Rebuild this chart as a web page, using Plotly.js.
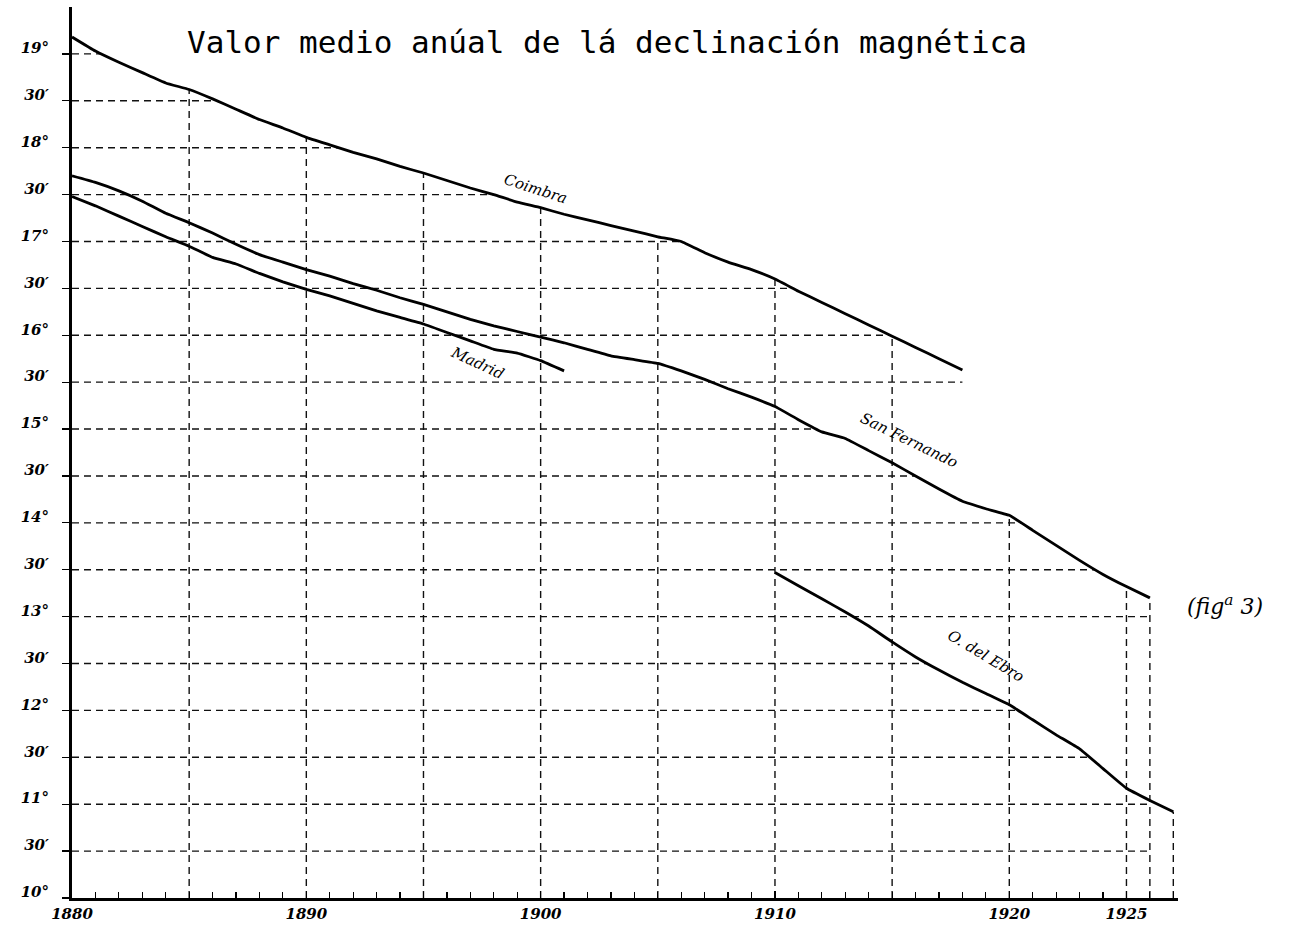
<!DOCTYPE html>
<html>
<head>
<meta charset="utf-8">
<script src="https://cdn.plot.ly/plotly-3.0.1.min.js"></script>
<style>html,body{margin:0;padding:0;background:#fff;}#chart{width:1291px;height:927px;}</style>
</head>
<body>
<div id="chart"></div>
<script>
// ---- Data ----
const coimbraYears = [1880,1881,1882,1883,1884,1885,1886,1887,1888,1889,1890,1891,1892,1893,1894,1895,1896,1897,1898,1899,1900,1901,1902,1903,1904,1905,1906,1907,1908,1909,1910,1911,1912,1913,1914,1915,1916,1917,1918];
const coimbra = [19.18,19.03,18.91,18.80,18.69,18.62,18.52,18.41,18.30,18.21,18.11,18.03,17.95,17.88,17.80,17.73,17.65,17.57,17.50,17.42,17.36,17.29,17.23,17.17,17.11,17.05,17.00,16.88,16.78,16.70,16.60,16.47,16.35,16.23,16.11,15.99,15.87,15.75,15.63];

const madridYears = [1880,1881,1882,1883,1884,1885,1886,1887,1888,1889,1890,1891,1892,1893,1894,1895,1896,1897,1898,1899,1900,1901];
const madrid = [17.48,17.38,17.27,17.16,17.05,16.95,16.83,16.76,16.66,16.57,16.49,16.42,16.34,16.26,16.19,16.12,16.03,15.94,15.85,15.81,15.73,15.62];

const sanFernandoYears = [1880,1881,1882,1883,1884,1885,1886,1887,1888,1889,1890,1891,1892,1893,1894,1895,1896,1897,1898,1899,1900,1901,1902,1903,1904,1905,1906,1907,1908,1909,1910,1911,1912,1913,1914,1915,1916,1917,1918,1919,1920,1921,1922,1923,1924,1925,1926];
const sanFernando = [17.70,17.63,17.54,17.43,17.30,17.20,17.09,16.97,16.86,16.78,16.70,16.63,16.55,16.48,16.40,16.33,16.25,16.17,16.10,16.04,15.98,15.92,15.85,15.78,15.74,15.70,15.62,15.53,15.43,15.34,15.24,15.10,14.97,14.90,14.77,14.64,14.50,14.36,14.23,14.15,14.08,13.92,13.76,13.60,13.45,13.32,13.20];

const ebroYears = [1910,1911,1912,1913,1914,1915,1916,1917,1918,1919,1920,1921,1922,1923,1924,1925,1926,1927];
const ebro = [13.47,13.33,13.19,13.05,12.90,12.73,12.57,12.43,12.30,12.18,12.06,11.90,11.74,11.59,11.38,11.17,11.04,10.92];

const xTickVals = [1880,1890,1900,1910,1920,1925];
const xTickText = ["1880","1890","1900","1910","1920","1925"];
const yTickVals = [10,10.5,11,11.5,12,12.5,13,13.5,14,14.5,15,15.5,16,16.5,17,17.5,18,18.5,19];
const yTickText = ["10°","30′","11°","30′","12°","30′","13°","30′","14°","30′","15°","30′","16°","30′","17°","30′","18°","30′","19°"];

const verticalGridYears = [1885,1890,1895,1900,1905,1910,1915,1920,1925,1926,1927];
const horizontalGridLevels = [10.5,11,11.5,12,12.5,13,13.5,14,14.5,15,15.5,16,16.5,17,17.5,18,18.5,19];

const seriesList = [
  {name:"Coimbra", x:coimbraYears, y:coimbra},
  {name:"Madrid", x:madridYears, y:madrid},
  {name:"San Fernando", x:sanFernandoYears, y:sanFernando},
  {name:"O. del Ebro", x:ebroYears, y:ebro}
];

// ---- helpers: gridlines stop where they meet the curves ----
function interp(xs, ys, X){
  if (X < xs[0]-1e-9 || X > xs[xs.length-1]+1e-9) return null;
  for (let i=0;i<xs.length-1;i++){
    if (X>=xs[i] && X<=xs[i+1]){
      const t=(X-xs[i])/(xs[i+1]-xs[i]);
      return ys[i]+t*(ys[i+1]-ys[i]);
    }
  }
  return ys[ys.length-1];
}
// x where a curve crosses level L (or its end, if it ends just above L)
function crossing(xs, ys, L){
  if (ys[0] < L) return null;
  for (let i=0;i<ys.length-1;i++){
    if (ys[i+1] < L){
      return xs[i] + (ys[i]-L)/(ys[i]-ys[i+1])*(xs[i+1]-xs[i]);
    }
  }
  const last = ys[ys.length-1];
  return (last - L) <= 0.3 ? xs[xs.length-1] : null;
}

const gridRight = 1926;
const gridStyle = {color:"#111", width:1.4, dash:"7px,5px"};
const shapes = [];
verticalGridYears.forEach(X=>{
  let top=null;
  seriesList.forEach(s=>{const v=interp(s.x,s.y,X); if(v!==null && (top===null||v>top)) top=v;});
  if(top!==null) shapes.push({type:"line", xref:"x", yref:"y", x0:X, x1:X, y0:10, y1:top, line:gridStyle, layer:"below"});
});
horizontalGridLevels.forEach(L=>{
  let right=null;
  seriesList.forEach(s=>{const v=crossing(s.x,s.y,L); if(v!==null && (right===null||v>right)) right=v;});
  if(right===null) right=gridRight;
  right=Math.min(right,gridRight);
  shapes.push({type:"line", xref:"x", yref:"y", x0:1880, x1:right, y0:L, y1:L, line:gridStyle, layer:"below"});
});

const traces = seriesList.map(s=>({
  type:"scatter", mode:"lines", name:s.name, x:s.x, y:s.y,
  line:{color:"#000", width:2.8, shape:"spline", smoothing:0.3},
  hoverinfo:"skip"
}));

const labelFont = {family:"DejaVu Serif", size:15, color:"#000", style:"italic"};
const annotations = [
  {x:1899.8, y:17.56, xref:"x", yref:"y", text:"Coimbra", showarrow:false, textangle:18, font:labelFont},
  {x:1897.3, y:15.70, xref:"x", yref:"y", text:"Madrid", showarrow:false, textangle:25, font:labelFont},
  {x:1915.7, y:14.88, xref:"x", yref:"y", text:"San Fernando", showarrow:false, textangle:26, font:labelFont},
  {x:1919.0, y:12.58, xref:"x", yref:"y", text:"O. del Ebro", showarrow:false, textangle:31, font:labelFont},
  {x:1.0425, y:0.329, xref:"paper", yref:"paper", xanchor:"center", yanchor:"middle", text:"(fig<sup>a</sup> 3)", showarrow:false, font:{family:"DejaVu Serif", size:22, color:"#000", style:"italic"}}
];

const tickFont = {family:"DejaVu Serif", size:15, color:"#000", style:"italic", weight:"bold"};

const layout = {
  width:1291, height:927,
  margin:{l:72, r:113, t:7, b:29},
  paper_bgcolor:"#fff", plot_bgcolor:"#fff",
  showlegend:false,
  title:{text:"Valor medio anúal de lá declinación magnética", x:0.4702, xanchor:"center", y:0.955, yanchor:"middle",
         font:{family:"DejaVu Sans Mono", size:31, color:"#000"}},
  xaxis:{
    range:[1880,1927.2], showgrid:false, zeroline:false, showline:true, linecolor:"#000", linewidth:2.5,
    tickmode:"array", tickvals:xTickVals, ticktext:xTickText, ticks:"inside", ticklen:7, tickwidth:1.5, tickcolor:"#000",
    tickfont:tickFont,
    minor:{tickmode:"linear", tick0:1880, dtick:1, ticks:"inside", ticklen:6, tickwidth:1.2, tickcolor:"#000", showgrid:false}
  },
  yaxis:{
    range:[10,19.5], showgrid:false, zeroline:false, showline:true, linecolor:"#000", linewidth:3,
    tickmode:"array", tickvals:yTickVals, ticktext:yTickText, ticks:"outside", ticklen:7, tickwidth:1.3, tickcolor:"#000",
    tickfont:tickFont, ticklabelstandoff:10, ticklabelshift:-6
  },
  shapes:shapes,
  annotations:annotations
};

Plotly.newPlot("chart", traces, layout, {displayModeBar:false, staticPlot:true});
</script>
</body>
</html>
